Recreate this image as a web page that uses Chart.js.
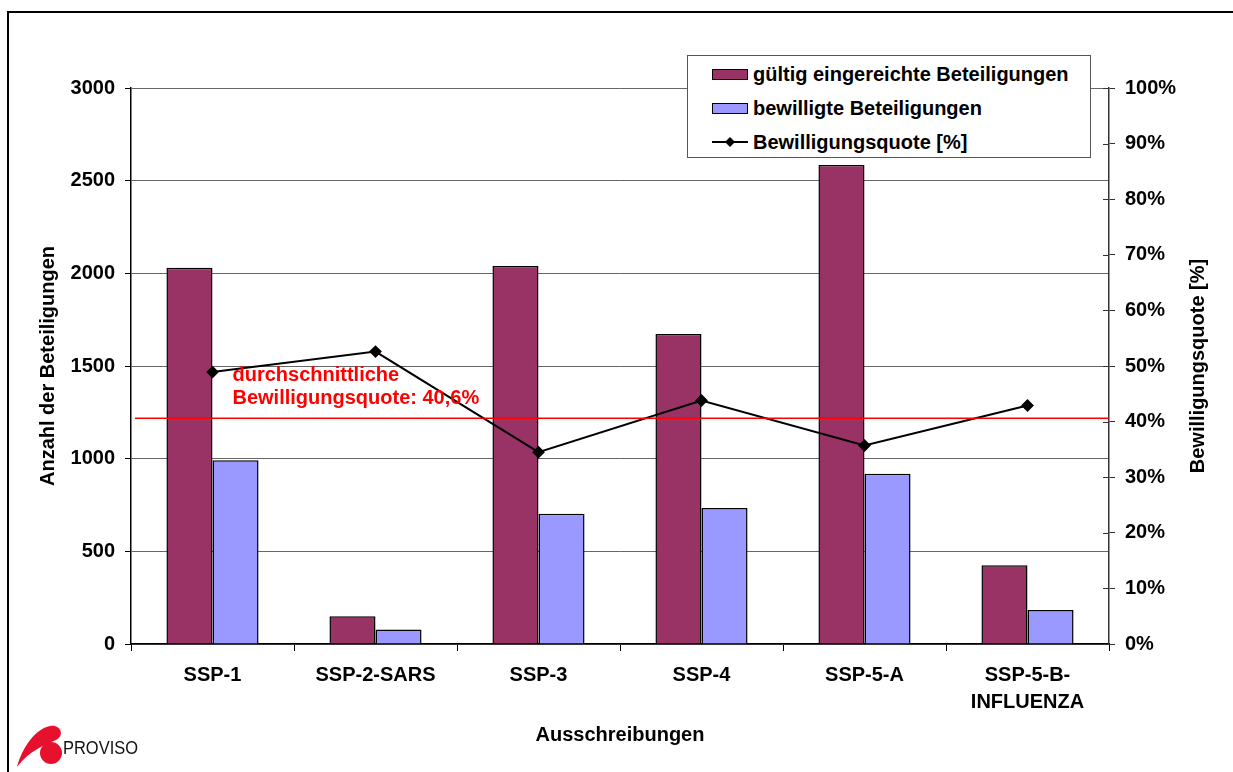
<!DOCTYPE html>
<html>
<head>
<meta charset="utf-8">
<script src="https://cdn.jsdelivr.net/npm/chart.js@4.4.0/dist/chart.umd.min.js"></script>
<style>
html, body { margin: 0; padding: 0; background: #fff; }
#wrap { position: relative; width: 1233px; height: 772px; overflow: hidden; font-family: "Liberation Sans", Arial, sans-serif; }
#frame { position: absolute; left: 7px; top: 11px; width: 1300px; height: 900px; border-top: 2px solid #000; border-left: 2px solid #000; }
#chart { position: absolute; left: 0; top: 0; }
#legend { position: absolute; left: 687px; top: 55px; width: 402px; height: 101px; border: 1px solid #555; background: #fff; }
#legend .row { position: absolute; left: 24px; height: 22px; line-height: 22px; display: flex; align-items: center; font-weight: bold; font-size: 20px; color: #000; white-space: nowrap; }
#legend .sw { display: inline-block; width: 34px; height: 9px; border: 1px solid #000; margin-right: 5px; }
#logo { position: absolute; left: 14px; top: 722px; }
</style>
</head>
<body>
<div id="wrap">
  <div id="frame"></div>
  <canvas id="chart" width="1233" height="772"></canvas>
  <div id="legend">
    <div class="row" style="top:7px"><span class="sw" style="background:#993366"></span>gültig eingereichte Beteiligungen</div>
    <div class="row" style="top:41px"><span class="sw" style="background:#9999ff"></span>bewilligte Beteiligungen</div>
    <div class="row" style="top:75px">
      <svg width="36" height="12" style="margin-right:5px"><line x1="0" y1="6" x2="36" y2="6" stroke="#000" stroke-width="2"/><polygon points="18,1 23,6 18,11 13,6" fill="#000"/></svg>Bewilligungsquote [%]
    </div>
  </div>
  <svg id="logo" width="140" height="50">
    <path d="M3 45 C 8 26, 21 7, 36 4 C 47 2, 51 14, 42 18 C 30 23, 15 29, 3 45 Z" fill="#e8112d"/>
    <circle cx="37" cy="31" r="11" fill="#e8112d"/>
    <text x="49" y="32" font-family="Liberation Sans, Arial, sans-serif" font-size="18" textLength="75" lengthAdjust="spacingAndGlyphs" fill="#111">PROVISO</text>
  </svg>
</div>
<script>
// Ausschreibungen und Beteiligungen
const categories = ['SSP-1', 'SSP-2-SARS', 'SSP-3', 'SSP-4', 'SSP-5-A', ['SSP-5-B-', 'INFLUENZA']];
const eingereicht = [2030, 150, 2040, 1672, 2585, 425];
const bewilligt = [991, 78, 703, 734, 919, 184];
const quote = [48.9, 52.6, 34.5, 43.8, 35.7, 42.9];
const avgQuote = 40.6;
const avgLabel = ['durchschnittliche', 'Bewilligungsquote: 40,6%'];

const fontMain = { family: '"Liberation Sans", Arial, sans-serif', size: 20, weight: 'bold' };

// Durchschnittslinie, Achsentitel und Beschriftung
const extras = {
    id: 'extras',
    afterDatasetsDraw(chart) {
        const { ctx, chartArea, scales } = chart;
        const yA = scales.y1.getPixelForValue(avgQuote);
        ctx.save();
        ctx.strokeStyle = '#ff0000';
        ctx.lineWidth = 1.5;
        ctx.beginPath();
        ctx.moveTo(chartArea.left + 4, yA);
        ctx.lineTo(chartArea.right, yA);
        ctx.stroke();
        ctx.restore();
    },
    afterDraw(chart) {
        const { ctx, chartArea, scales } = chart;
        const font = 'bold 20px "Liberation Sans", Arial, sans-serif';
        const midY = (chartArea.top + chartArea.bottom) / 2;
        ctx.save();

        // innere Tickmarken rechte Achse
        ctx.strokeStyle = '#333';
        ctx.lineWidth = 1;
        scales.y1.ticks.forEach(t => {
            const y = Math.round(scales.y1.getPixelForValue(t.value)) + 0.5;
            ctx.beginPath();
            ctx.moveTo(chartArea.right - 6, y);
            ctx.lineTo(chartArea.right, y);
            ctx.stroke();
        });

        ctx.font = font;
        ctx.fillStyle = '#ff0000';
        ctx.textAlign = 'left';
        ctx.textBaseline = 'alphabetic';
        const yA = scales.y1.getPixelForValue(avgQuote);
        const xA = scales.x.getPixelForValue(0) + 20;
        ctx.fillText(avgLabel[0], xA, yA - 37);
        ctx.fillText(avgLabel[1], xA, yA - 14);

        ctx.fillStyle = '#000';
        ctx.textAlign = 'center';
        ctx.textBaseline = 'middle';
        ctx.fillText('Ausschreibungen', (chartArea.left + chartArea.right) / 2, 735);

        ctx.translate(48, midY);
        ctx.rotate(-Math.PI / 2);
        ctx.fillText('Anzahl der Beteiligungen', 0, 0);
        ctx.restore();

        ctx.save();
        ctx.font = font;
        ctx.fillStyle = '#000';
        ctx.textAlign = 'center';
        ctx.textBaseline = 'middle';
        ctx.translate(1198, midY);
        ctx.rotate(-Math.PI / 2);
        ctx.fillText('Bewilligungsquote [%]', 0, 0);
        ctx.restore();
    }
};

new Chart(document.getElementById('chart'), {
    type: 'bar',
    data: {
        labels: categories,
        datasets: [{
            label: 'gültig eingereichte Beteiligungen',
            data: eingereicht,
            backgroundColor: '#993366',
            borderColor: '#000',
            borderWidth: 1.5,
            yAxisID: 'y',
            order: 2
        }, {
            label: 'bewilligte Beteiligungen',
            data: bewilligt,
            backgroundColor: '#9999ff',
            borderColor: '#000',
            borderWidth: 1.5,
            yAxisID: 'y',
            order: 2
        }, {
            type: 'line',
            label: 'Bewilligungsquote [%]',
            data: quote,
            borderColor: '#000',
            backgroundColor: '#000',
            borderWidth: 2,
            pointStyle: 'rectRot',
            pointRadius: 5,
            pointBackgroundColor: '#000',
            tension: 0,
            yAxisID: 'y1',
            order: 1
        }]
    },
    options: {
        responsive: false,
        animation: false,
        maintainAspectRatio: false,
        layout: { padding: { top: 88, left: 0, right: 0, bottom: 0 } },
        datasets: {
            bar: { categoryPercentage: 0.565, barPercentage: 1 }
        },
        plugins: {
            legend: { display: false },
            tooltip: { enabled: false }
        },
        scales: {
            x: {
                offset: true,
                grid: { offset: true, drawOnChartArea: false, tickLength: 7, color: '#000' },
                border: { color: '#000', width: 1.5 },
                ticks: { color: '#000', font: { ...fontMain, lineHeight: 1.35 }, padding: 11, maxRotation: 0 },
                afterFit(s) { s.height = 128; }
            },
            y: {
                position: 'left',
                min: 0,
                max: 3000,
                ticks: { stepSize: 500, color: '#000', font: fontMain, padding: 10, callback: v => String(v) },
                grid: { color: '#666', tickColor: '#000', tickLength: 6 },
                border: { color: '#000', width: 1.5 },
                afterFit(s) { s.width = 131; }
            },
            y1: {
                position: 'right',
                min: 0,
                max: 100,
                ticks: { stepSize: 10, color: '#000', font: fontMain, padding: 10, callback: v => v + '%' },
                grid: { drawOnChartArea: false, color: '#333', tickLength: 6 },
                border: { color: '#333', width: 1.5 },
                afterFit(s) { s.width = 124; }
            }
        }
    },
    plugins: [extras]
});
</script>
</body>
</html>
